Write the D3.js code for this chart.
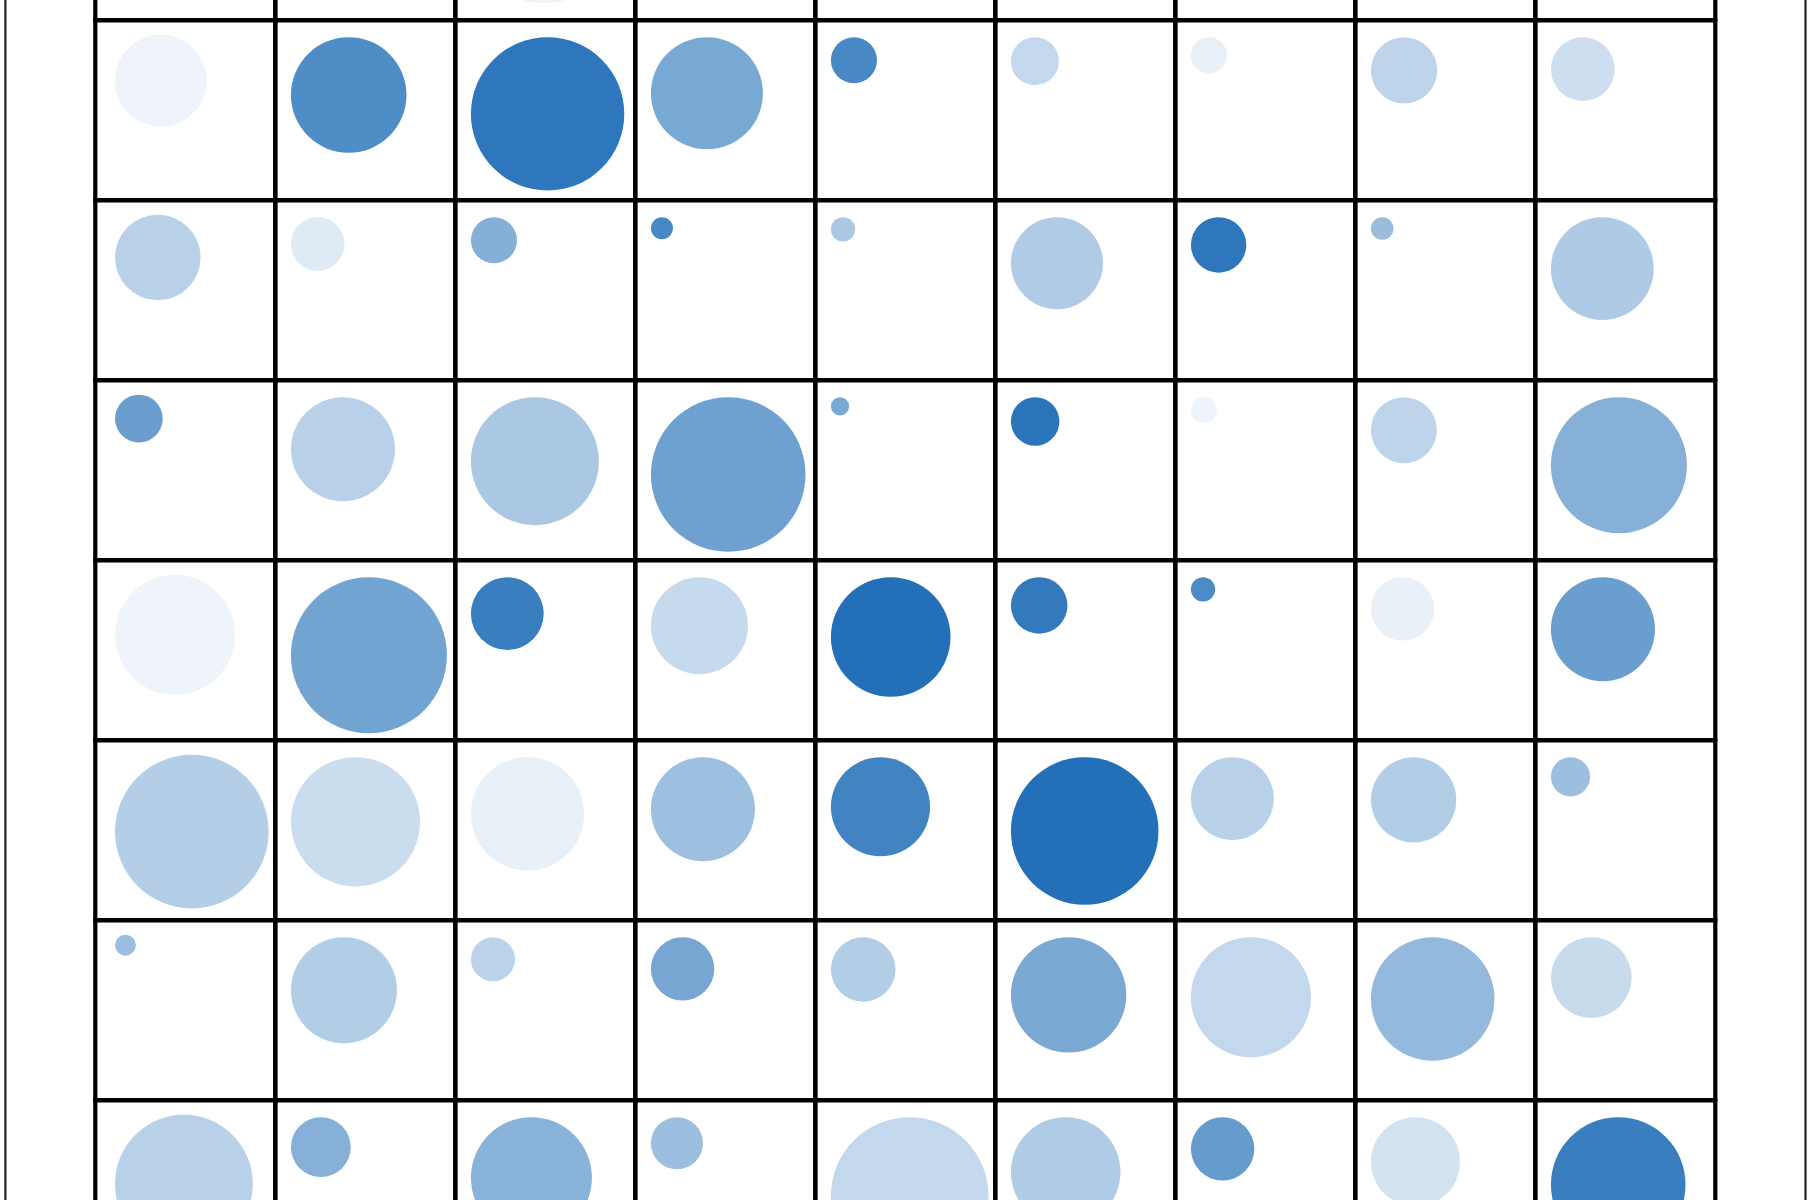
<!DOCTYPE html>
<html>
<head>
<meta charset="utf-8">
<script src="https://cdn.jsdelivr.net/npm/d3@7"></script>
<style>
  body { margin: 0; background: #fff; }
  svg { display: block; }
</style>
</head>
<body>
<div id="chart"></div>
<script>
/*global d3 */

// grid is 9 columns; first row is only partly in view (only one circle reaches down)
var columns = ["c1", "c2", "c3", "c4", "c5", "c6", "c7", "c8", "c9"];
var rows = ["r0", "r1", "r2", "r3", "r4", "r5", "r6", "r7"];

// size value per cell (area share, 0..1); null = not visible in the picture
var sizes = [
    [null, null, 0.833, null, null, null, null, null, null],
    [0.328, 0.522, 0.919, 0.490, 0.083, 0.090, 0.051, 0.172, 0.159],
    [0.286, 0.112, 0.083, 0.019, 0.023, 0.331, 0.120, 0.020, 0.413],
    [0.089, 0.423, 0.640, 0.934, 0.013, 0.092, 0.026, 0.170, 0.723],
    [0.563, 0.951, 0.207, 0.368, 0.559, 0.125, 0.023, 0.157, 0.423],
    [0.922, 0.652, 0.501, 0.423, 0.384, 0.851, 0.269, 0.285, 0.060],
    [0.017, 0.439, 0.076, 0.157, 0.163, 0.520, 0.563, 0.597, 0.255],
    [0.742, 0.140, 0.572, 0.106, 0.970, 0.469, 0.157, 0.311, 0.708]
];

// colour intensity per cell (0..1)
var shades = [
    [null, null, 0.08, null, null, null, null, null, null],
    [0.08, 0.80, 0.95, 0.61, 0.83, 0.27, 0.11, 0.30, 0.23],
    [0.32, 0.15, 0.56, 0.83, 0.39, 0.36, 0.95, 0.46, 0.37],
    [0.68, 0.32, 0.39, 0.66, 0.61, 0.97, 0.08, 0.30, 0.55],
    [0.08, 0.64, 0.90, 0.26, 1.00, 0.93, 0.81, 0.10, 0.68],
    [0.34, 0.24, 0.11, 0.44, 0.86, 1.00, 0.32, 0.35, 0.45],
    [0.45, 0.35, 0.31, 0.62, 0.35, 0.60, 0.27, 0.49, 0.25],
    [0.32, 0.55, 0.54, 0.45, 0.27, 0.36, 0.70, 0.20, 0.90]
];

var width = 1810, height = 1200;
var cell = 180;
var left = 95.3, top0 = 20.2 - cell;

var svg = d3.select("#chart").append("svg")
    .attr("width", width)
    .attr("height", height);

var x = d3.scaleLinear().domain([0, columns.length]).range([left, left + cell * columns.length]);
var y = d3.scaleLinear().domain([0, rows.length]).range([top0, top0 + cell * rows.length]);
var r = d3.scaleSqrt().domain([0, 1]).range([0, 80]);
var opacity = d3.scaleLinear().domain([0, 1]).range([0, 1]);

// frame lines at the sides
svg.selectAll("line.side")
    .data([5.4, 1805.5])
    .enter().append("line")
    .attr("class", "side")
    .attr("x1", function(d){ return d; })
    .attr("x2", function(d){ return d; })
    .attr("y1", 0).attr("y2", height)
    .attr("stroke", "#222")
    .attr("stroke-width", 2.2);

var cells = [];
rows.forEach(function(rw, i){
    columns.forEach(function(c, j){
        cells.push({row: i, col: j, size: sizes[i][j], shade: shades[i][j]});
    });
});

var g = svg.append("g");

// circles sit in the top-left corner of each cell
g.selectAll("circle")
    .data(cells.filter(function(d){ return d.size !== null; }))
    .enter().append("circle")
    .attr("r", function(d){ return r(d.size); })
    .attr("cx", function(d){
        var pad = d.col === 0 ? 19.7 : 15.6;
        return x(d.col) + pad + r(d.size);
    })
    .attr("cy", function(d){
        var pad = d.col === 0 ? 14.6 : 17;
        return y(d.row) + pad + r(d.size);
    })
    .attr("fill", "#2370b8")
    .attr("fill-opacity", function(d){ return opacity(d.shade); });

g.selectAll("rect")
    .data(cells)
    .enter().append("rect")
    .attr("x", function(d){ return x(d.col); })
    .attr("y", function(d){ return y(d.row); })
    .attr("width", cell)
    .attr("height", cell)
    .attr("fill", "none")
    .attr("stroke", "#000")
    .attr("stroke-width", 4.2);
</script>
</body>
</html>
